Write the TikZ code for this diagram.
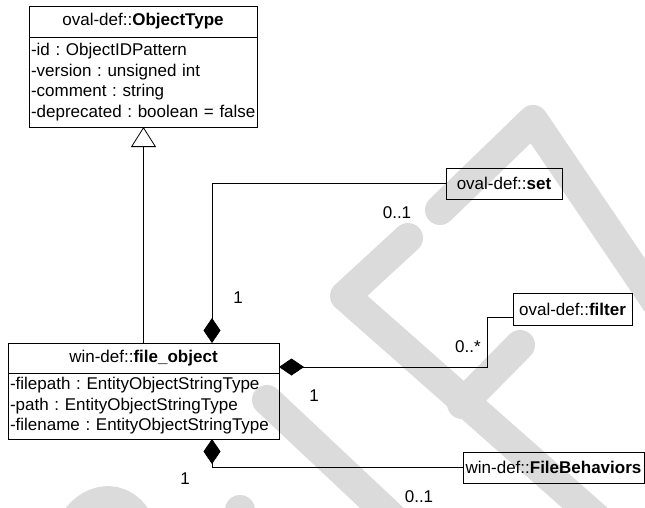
\documentclass[tikz,border=0pt]{standalone}
\usepackage{fontspec}
\setmainfont{Liberation Sans}
\frenchspacing
\usetikzlibrary{positioning, arrows.meta}

\tikzset{
    classhead/.style={draw, line width=1pt, inner sep=0pt, outer sep=0pt, align=center},
    classbody/.style={draw, line width=1pt, inner xsep=2pt, inner ysep=0pt, outer sep=0pt, align=left},
    classref/.style={draw, line width=1pt, inner sep=0pt, outer sep=0pt},
    compose/.style={{Diamond[length=25pt, width=17pt]}-, line width=0.8pt},
    inherit/.style={-{Triangle[open, length=20pt, width=25pt, fill=white]}, line width=0.8pt},
    mult/.style={inner sep=0pt},
    watermark/.style={black!14, line width=30pt, line cap=round, line join=round}
}

\begin{document}
\begin{tikzpicture}[x=1pt, y=-1pt, font=\fontsize{17}{20.5}\selectfont]
    \useasboundingbox (0,0) rectangle (645,507);

    \begin{scope}
        \clip (0,0) rectangle (645,507);
        \draw[watermark] (440,210) -- (533,120) -- (680,337);
        \draw[watermark] (408,238) -- (345,296) -- (610,530);
        \draw[watermark] (520,345) -- (462,404);
        \draw[watermark] (267,400) -- (400,525);
        \draw[watermark] (70,530) .. controls (85,495) and (125,490) .. (140,525);
        \draw[watermark] (240,510) -- (236,540);
    \end{scope}

    \node (objtype)      [classhead, minimum width=228pt, minimum height=31pt] at (143,21.5) {oval-def::\textbf{ObjectType}};
    \node (objtype-attr) [classbody, text width=224pt, minimum height=90pt, below=0pt of objtype]
        {\mbox{-id : ObjectIDPattern}\\\mbox{-version : unsigned int}\\\mbox{-comment : string}\\\mbox{-deprecated : boolean = false}};

    \node (fileobj)      [classhead, minimum width=271pt, minimum height=30pt] at (143.5,358) {win-def::\textbf{file\_object}};
    \node (fileobj-attr) [classbody, text width=267pt, minimum height=66pt, below=0pt of fileobj]
        {\mbox{-filepath : EntityObjectStringType}\\\mbox{-path : EntityObjectStringType}\\\mbox{-filename : EntityObjectStringType}};

    \node (set)    [classref, minimum width=116pt, minimum height=31pt] at (504,183.5)   {oval-def::\textbf{set}};
    \node (filter) [classref, minimum width=119pt, minimum height=32pt] at (572.5,309)   {oval-def::\textbf{filter}};
    \node (behav)  [classref, minimum width=181pt, minimum height=31pt] at (553.5,467.5) {win-def::\textbf{FileBehaviors}};

    \coordinate (setfoot)    at ([xshift=68.5pt]fileobj.north);
    \coordinate (filterfoot) at ([yshift=-9pt]fileobj.east);
    \coordinate (filterin)   at ([yshift=-8pt]filter.west);
    \coordinate (behavfoot)  at ([xshift=68.5pt]fileobj-attr.south);

    \draw[inherit] (fileobj.north) -- (fileobj.north |- objtype-attr.south);
    \draw[compose] (setfoot)    |- (set.west);
    \draw[compose] (filterfoot) -| ([xshift=-26pt]filterin) -- (filterin);
    \draw[compose] (behavfoot)  |- (behav.west);

    \node (setone)     [mult] at (238,298) {1};
    \node (setmult)    [mult] at (397,213) {0..1};
    \node (filterone)  [mult] at (314,396) {1};
    \node (filtermult) [mult] at (468,347) {0..*};
    \node (behavone)   [mult] at (185,479) {1};
    \node (behavmult)  [mult] at (419,497) {0..1};
\end{tikzpicture}
\end{document}
